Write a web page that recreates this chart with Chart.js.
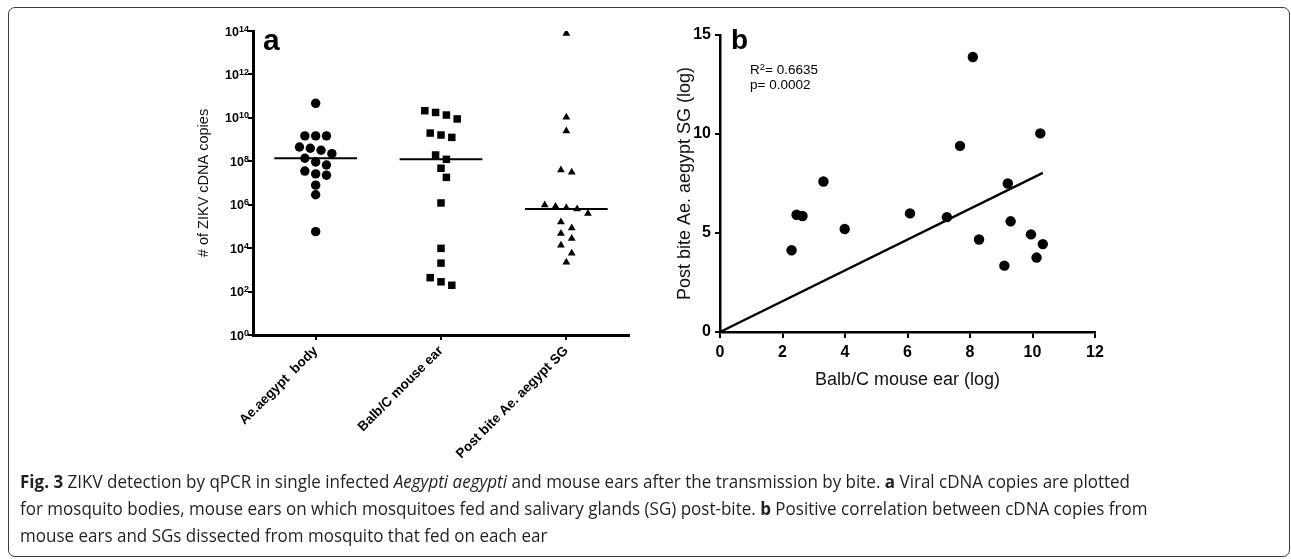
<!DOCTYPE html>
<html>
<head>
<meta charset="utf-8">
<script src="https://cdn.jsdelivr.net/npm/chart.js@4.4.0/dist/chart.umd.min.js"></script>
<style>
html,body{margin:0;padding:0;background:#fff;width:1291px;height:559px;overflow:hidden;font-family:"Liberation Sans",Arial,Helvetica,sans-serif;}
#frame{position:absolute;left:8px;top:7px;width:1282px;height:550px;border:1.5px solid #3c3c3c;border-radius:7px;box-sizing:border-box;}
#wa{position:absolute;left:150px;top:0;width:500px;height:480px;}
#wb{position:absolute;left:640px;top:0;width:520px;height:400px;}
.lbl{position:absolute;font-weight:bold;color:#000;}
#la{left:263px;top:25px;font-size:30px;line-height:30px;}
#lb{left:731px;top:26px;font-size:28px;line-height:28px;}
#stats{position:absolute;left:750px;top:62px;font-size:13.5px;line-height:15px;color:#000;white-space:nowrap;}
#stats sup{font-size:0.7em;line-height:0;vertical-align:0.45em;}
#cap{position:absolute;left:20px;top:468px;font-family:"Open Sans",sans-serif;font-size:17.5px;line-height:27px;color:#231f20;white-space:nowrap;}
#cap .cl{transform-origin:0 50%;}
</style>
</head>
<body>
<div id="frame"></div>
<div id="wa"><canvas id="ca"></canvas></div>
<div id="wb"><canvas id="cb"></canvas></div>
<div class="lbl" id="la">a</div>
<div class="lbl" id="lb">b</div>
<div id="stats"></div>
<div id="cap">
<div class="cl"><b>Fig. 3</b> ZIKV detection by qPCR in single infected <i>Aegypti aegypti</i> and mouse ears after the transmission by bite. <b>a</b> Viral cDNA copies are plotted</div>
<div class="cl">for mosquito bodies, mouse ears on which mosquitoes fed and salivary glands (SG) post-bite. <b>b</b> Positive correlation between cDNA copies from</div>
<div class="cl">mouse ears and SGs dissected from mosquito that fed on each ear</div>
</div>
<script>
// ---------- data (log10 of cDNA copies) ----------
const categories = ['Ae.aegypt  body', 'Balb/C mouse ear', 'Post bite Ae. aegypt SG'];
const bodyLog = [10.67, 9.17, 9.17, 9.17, 8.66, 8.60, 8.51, 8.35, 8.14, 7.97, 7.83, 7.55, 7.42, 7.36, 6.90, 6.46, 4.76];
// paired samples: mouse ear (x in panel b) and post-bite salivary gland (y in panel b)
const earLog = [3.31, 2.45, 2.64, 3.99, 2.29, 8.09, 7.68, 10.25, 9.21, 6.08, 7.26, 9.30, 8.29, 9.95, 10.33, 10.13, 9.10];
const sgLog  = [7.60, 5.92, 5.86, 5.20, 4.13, 13.89, 9.40, 10.03, 7.50, 5.99, 5.80, 5.59, 4.67, 4.93, 4.44, 3.76, 3.35];
const yExponents = [0, 2, 4, 6, 8, 10, 12, 14];
const statsLines = ['R<sup>2</sup>= 0.6635', 'p= 0.0002'];
const titleA = '# of ZIKV cDNA copies';
const titleBx = 'Balb/C mouse ear (log)';
const titleBy = 'Post bite Ae. aegypt SG (log)';

document.getElementById('stats').innerHTML = statsLines.join('<br>');

const FONT = '"Liberation Sans", Arial, Helvetica, sans-serif';
Chart.defaults.font.family = FONT;
Chart.defaults.color = '#000';
Chart.defaults.animation = false;

function median(arr) {
  const s = [...arr].sort((a, b) => a - b), m = Math.floor(s.length / 2);
  return s.length % 2 ? s[m] : (s[m - 1] + s[m]) / 2;
}

const columns = [bodyLog, earLog, sgLog];
const pStyles = ['circle', 'rect', 'triangle'];
const pRadii = [4.7, 5.3, 4.5];

const dsA = columns.map((col, i) => ({
  data: col.map(v => ({x: i, y: Math.pow(10, v)})),
  pointStyle: pStyles[i], pointRadius: pRadii[i], pointBorderWidth: 0,
  backgroundColor: '#000', borderColor: '#000'
}));
columns.forEach((col, i) => {
  const m = Math.pow(10, median(col));
  dsA.push({data: [{x: i - 0.33, y: m}, {x: i + 0.33, y: m}], showLine: true,
    borderColor: '#000', borderWidth: 2, pointRadius: 0});
});

const tickGrid = (len, w) => ({display: true, drawOnChartArea: false, drawTicks: true, tickLength: len, color: '#000', lineWidth: w});

// power-of-ten tick labels with raised exponent
const powerLabels = {
  id: 'powerLabels',
  afterDraw(chart) {
    const ys = chart.scales.y, ctx = chart.ctx;
    const xRight = ys.right - 4;
    ctx.save();
    ctx.fillStyle = '#000';
    ctx.textAlign = 'right';
    ctx.textBaseline = 'alphabetic';
    ys.ticks.forEach(t => {
      const y = ys.getPixelForValue(t.value);
      const e = String(Math.round(Math.log10(t.value)));
      ctx.font = 'bold 9px ' + FONT;
      const ew = ctx.measureText(e).width;
      ctx.fillText(e, xRight, y + 0.5);
      ctx.font = 'bold 12.5px ' + FONT;
      ctx.fillText('10', xRight - ew, y + 4.6);
    });
    ctx.restore();
  }
};

const chartA = new Chart(document.getElementById('ca'), {
  type: 'scatter',
  data: {datasets: dsA},
  plugins: [powerLabels],
  options: {
    responsive: true, maintainAspectRatio: false,
    layout: {padding: {left: 0, top: 31, right: 21, bottom: 0}},
    plugins: {legend: {display: false}, tooltip: {enabled: false}},
    scales: {
      x: {
        type: 'linear', min: -0.5, max: 2.5,
        afterBuildTicks: s => { s.ticks = categories.map((c, i) => ({value: i})); },
        afterFit: s => { s.height = 145; },
        ticks: {callback: v => categories[v], minRotation: 45, maxRotation: 45, padding: 3,
          font: {size: 13.5, weight: 'bold'}, color: '#000'},
        grid: tickGrid(5, 2),
        border: {display: true, color: '#000', width: 3}
      },
      y: {
        type: 'logarithmic', min: 1, max: 1e14,
        afterBuildTicks: s => { s.ticks = yExponents.map(e => ({value: Math.pow(10, e)})); },
        afterFit: s => { s.width = 103; },
        ticks: {callback: () => '', padding: 1, font: {size: 13, weight: 'bold'}},
        grid: tickGrid(5, 2),
        border: {display: true, color: '#000', width: 3},
        title: {display: true, text: titleA, font: {size: 14.5}, color: '#111', padding: {top: 45, bottom: 0}}
      }
    }
  }
});

// column scatter layout (rows of nearby values spread sideways, no overlaps)
function arrangeColumns(chart) {
  const xs = chart.scales.x, ys = chart.scales.y;
  const pxPerUnit = Math.abs(xs.getPixelForValue(1) - xs.getPixelForValue(0));
  const stepPx = 10.8, rowPx = 9, minPx = 9.3;
  columns.forEach((col, ci) => {
    const pts = col.map((v, idx) => ({idx, py: ys.getPixelForValue(Math.pow(10, v))})).sort((a, b) => a.py - b.py);
    const placed = [];
    let k = 0;
    while (k < pts.length) {
      const row = [pts[k]];
      let j = k + 1;
      while (j < pts.length && pts[j].py - pts[k].py <= rowPx) { row.push(pts[j]); j++; }
      const base = row.map((p, r) => (r - (row.length - 1) / 2) * stepPx);
      const shifts = [0, 0.5, -0.5, 1, -1, 1.5, -1.5, 2, -2].map(s => s * stepPx);
      let chosen = 0;
      for (const s of shifts) {
        const ok = row.every((p, r) => placed.every(q => Math.hypot(q.dx - (base[r] + s), q.py - p.py) >= minPx));
        if (ok) { chosen = s; break; }
      }
      row.forEach((p, r) => {
        const dx = base[r] + chosen;
        placed.push({dx, py: p.py});
        chart.data.datasets[ci].data[p.idx].x = ci + dx / pxPerUnit;
      });
      k = j;
    }
  });
  chart.update('none');
}
arrangeColumns(chartA);

// regression through the origin computed from the paired data
const sxy = earLog.reduce((a, x, i) => a + x * sgLog[i], 0);
const sxx = earLog.reduce((a, x) => a + x * x, 0);
const slope = sxy / sxx;
const xMax = Math.max(...earLog);

new Chart(document.getElementById('cb'), {
  type: 'scatter',
  data: {datasets: [
    {data: earLog.map((x, i) => ({x, y: sgLog[i]})), pointStyle: 'circle', pointRadius: 5.2, pointBorderWidth: 0,
      backgroundColor: '#000', borderColor: '#000'},
    {data: [{x: 0, y: 0}, {x: xMax, y: slope * xMax}], showLine: true, borderColor: '#000', borderWidth: 2.3, pointRadius: 0}
  ]},
  options: {
    responsive: true, maintainAspectRatio: false,
    layout: {padding: {left: 0, top: 35, right: 65, bottom: 0}},
    plugins: {legend: {display: false}, tooltip: {enabled: false}},
    scales: {
      x: {
        type: 'linear', min: 0, max: 12,
        afterFit: s => { s.height = 68; },
        ticks: {stepSize: 2, padding: 5, font: {size: 16, weight: 'bold'}, color: '#000'},
        grid: tickGrid(6, 2),
        border: {display: true, color: '#000', width: 2.5},
        title: {display: true, text: titleBx, font: {size: 18}, color: '#111', padding: {top: 0, bottom: 9}}
      },
      y: {
        type: 'linear', min: 0, max: 15,
        afterFit: s => { s.width = 80; },
        ticks: {stepSize: 5, padding: 4, font: {size: 16, weight: 'bold'}, color: '#000'},
        grid: tickGrid(5, 2),
        border: {display: true, color: '#000', width: 2.5},
        title: {display: true, text: titleBy, font: {size: 18}, color: '#111', padding: {top: 34, bottom: 0}}
      }
    }
  }
});

// fit caption lines to the reference line length
(function fitCaption() {
  const lines = document.querySelectorAll('#cap .cl');
  const range = document.createRange();
  range.selectNodeContents(lines[0]);
  const w = range.getBoundingClientRect().width;
  const k = 1110 / w;
  lines.forEach(l => { l.style.transform = 'scaleX(' + k + ')'; });
})();
</script>
</body>
</html>
